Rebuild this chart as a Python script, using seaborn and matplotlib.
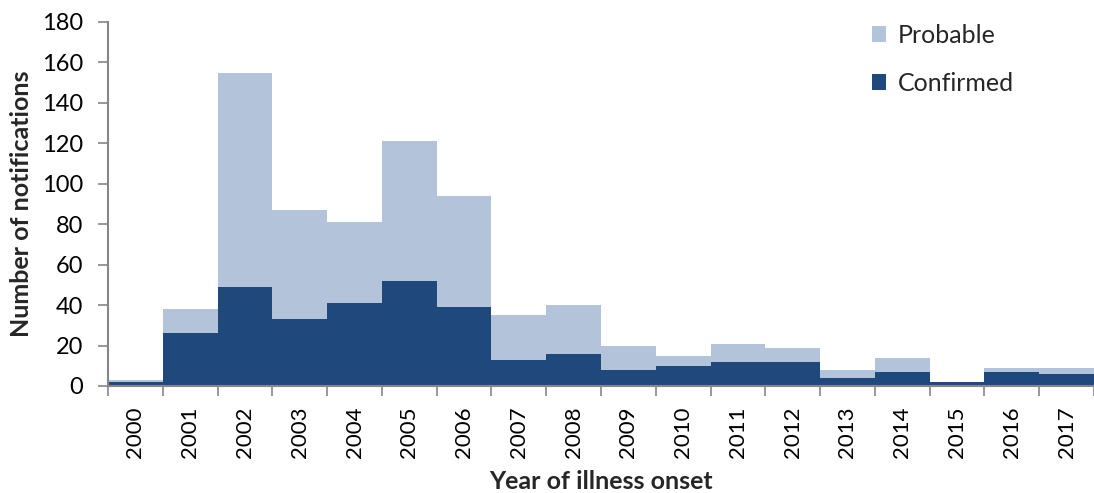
import matplotlib
matplotlib.use("Agg")
import matplotlib.pyplot as plt
from matplotlib.patches import Patch
from matplotlib.ticker import FixedLocator, MultipleLocator
import seaborn as sns
import pandas as pd

# Notifications by year of illness onset
years = [str(y) for y in range(2000, 2018)]
confirmed = [2, 26, 49, 33, 41, 52, 39, 13, 16, 8, 10, 12, 12, 4, 7, 2, 7, 6]
probable = [1, 12, 106, 54, 40, 69, 55, 22, 24, 12, 5, 9, 7, 4, 7, 0, 2, 3]

light_blue = "#B3C4DA"
dark_blue = "#1F497D"
axis_grey = "#868686"

df = pd.DataFrame({"year": years, "confirmed": confirmed, "probable": probable})
df["total"] = df["confirmed"] + df["probable"]

sns.set_theme(style="white")
plt.rcParams["font.family"] = ["Lato", "DejaVu Sans"]

fig = plt.figure(figsize=(10.94, 4.93), dpi=100)
ax = fig.add_axes([108 / 1094, 1 - 386 / 493, 1 - 108 / 1094, (386 - 22) / 493])

# Stacked bars: total (probable on top) drawn first, confirmed over it
sns.barplot(data=df, x="year", y="total", color=light_blue, width=1.0,
            saturation=1, linewidth=0, ax=ax)
sns.barplot(data=df, x="year", y="confirmed", color=dark_blue, width=1.0,
            saturation=1, linewidth=0, ax=ax)

ax.set_xlim(-0.5, len(years) - 0.5)
ax.set_ylim(0, 180)
ax.yaxis.set_major_locator(MultipleLocator(20))

# Tick marks between bars, labels centred under bars
ax.xaxis.set_minor_locator(FixedLocator([i - 0.5 for i in range(len(years) + 1)]))
ax.tick_params(axis="x", which="major", length=0, labelsize=16, labelrotation=90,
               pad=15, colors="black")
ax.tick_params(axis="x", which="minor", length=7, width=1.2, color=axis_grey,
               direction="out", bottom=True)
ax.tick_params(axis="y", which="major", length=7, width=1.2, color=axis_grey,
               direction="out", left=True, labelsize=17, pad=11, labelcolor="black")

for side in ("top", "right"):
    ax.spines[side].set_visible(False)
for side in ("left", "bottom"):
    ax.spines[side].set_color(axis_grey)
    ax.spines[side].set_linewidth(1.5)

ax.set_xlabel("Year of illness onset", fontsize=18, fontweight="bold", labelpad=8)
ax.set_ylabel("Number of notifications", fontsize=18, fontweight="bold", labelpad=6)

handles = [Patch(facecolor=light_blue, edgecolor="none", label="Probable"),
           Patch(facecolor=dark_blue, edgecolor="none", label="Confirmed")]
ax.legend(handles=handles, loc="upper left", bbox_to_anchor=(0.775, 0.995),
          frameon=False, fontsize=18, handlelength=0.56, handleheight=0.56,
          handletextpad=0.45, labelspacing=1.0, borderpad=0, borderaxespad=0)

fig.savefig("out.png", dpi=100)
